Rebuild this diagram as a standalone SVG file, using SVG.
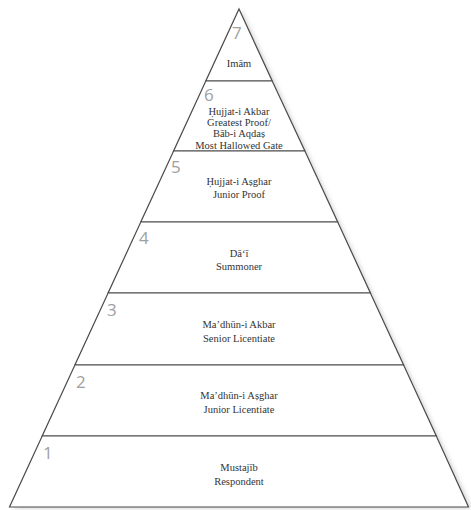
<svg xmlns="http://www.w3.org/2000/svg" width="471" height="510" viewBox="0 0 471 510">
<style>
.tier{fill:#fff;stroke:#4a4a4a;stroke-width:1.2;stroke-linejoin:miter}
.num{font-family:"Open Sans","Liberation Sans",sans-serif;font-size:17px;fill:#a0a0a0}
.lbl{font-family:"Liberation Serif","DejaVu Serif",serif;font-size:10.5px;fill:#333;text-anchor:middle}
</style>
<defs>
<filter id="sh" x="-10%" y="-10%" width="120%" height="120%">
<feGaussianBlur stdDeviation="2.5"/>
</filter>
</defs>
<rect width="471" height="510" fill="#fff"/>
<polygon points="241,10 471,508 13,508" fill="#a8a8a8" opacity="0.6" filter="url(#sh)"/>
<g id="tier7">
<polygon class="tier" points="239,9 272.2,81 205.8,81"/>
<text class="num" x="232" y="39">7</text>
<text class="lbl" x="239" y="67">Imām</text>
</g>
<g id="tier6">
<polygon class="tier" points="205.8,81 272.2,81 304.9,151 173.6,151"/>
<text class="num" x="204" y="101">6</text>
<text class="lbl" x="239" y="115">Ḥujjat-i Akbar</text>
<text class="lbl" x="239" y="126">Greatest Proof/</text>
<text class="lbl" x="239" y="137">Bāb-i Aqdaṣ</text>
<text class="lbl" x="239" y="149">Most Hallowed Gate</text>
</g>
<g id="tier5">
<polygon class="tier" points="173.6,151 304.9,151 337.7,222 140.8,222"/>
<text class="num" x="171" y="173">5</text>
<text class="lbl" x="239" y="185">Ḥujjat-i Aṣghar</text>
<text class="lbl" x="239" y="198">Junior Proof</text>
</g>
<g id="tier4">
<polygon class="tier" points="140.8,222 337.7,222 370.4,293 108.1,293"/>
<text class="num" x="139" y="244">4</text>
<text class="lbl" x="239" y="257">Dā‘ī</text>
<text class="lbl" x="239" y="270">Summoner</text>
</g>
<g id="tier3">
<polygon class="tier" points="108.1,293 370.4,293 403.6,365 74.9,365"/>
<text class="num" x="107" y="316">3</text>
<text class="lbl" x="239" y="328">Ma’dhūn-i Akbar</text>
<text class="lbl" x="239" y="342">Senior Licentiate</text>
</g>
<g id="tier2">
<polygon class="tier" points="74.9,365 403.6,365 436.3,436 42.2,436"/>
<text class="num" x="76" y="388">2</text>
<text class="lbl" x="239" y="399">Ma’dhūn-i Aṣghar</text>
<text class="lbl" x="239" y="413">Junior Licentiate</text>
</g>
<g id="tier1">
<polygon class="tier" points="42.2,436 436.3,436 468.5,507 9.5,507"/>
<text class="num" x="43" y="459">1</text>
<text class="lbl" x="239" y="471">Mustajīb</text>
<text class="lbl" x="239" y="485">Respondent</text>
</g>
<g id="connectors"/>
</svg>
